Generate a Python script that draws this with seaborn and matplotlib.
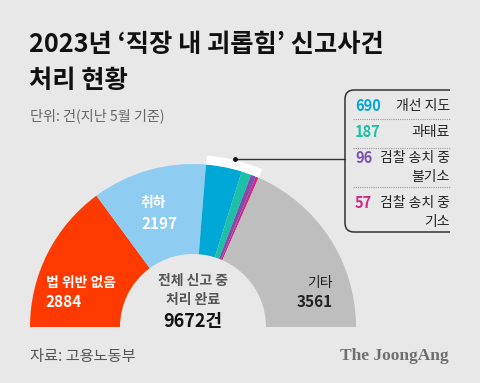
import matplotlib
matplotlib.use("Agg")
import numpy as np
import matplotlib.pyplot as plt
import seaborn as sns
from matplotlib.patches import Wedge, PathPatch
from matplotlib.path import Path

# --- data ---
categories = ['법 위반 없음', '취하', '개선 지도', '과태료', '검찰 송치 중\n불기소', '검찰 송치 중\n기소', '기타']
counts = [2884, 2197, 690, 187, 96, 57, 3561]
colors = ['#FF3A00', '#8ECCF1', '#00A8D8', '#1CC0A6', '#7A4FAE', '#D22784', '#BEBEBE']
detail_idx = [2, 3, 4, 5]
total = sum(counts)

BG = '#E8E8E8'
KR = ['Noto Sans CJK KR', 'DejaVu Sans']

sns.set_theme(style="white", rc={'figure.facecolor': BG, 'axes.facecolor': BG})
plt.rcParams['font.family'] = KR

fig = plt.figure(figsize=(4.8, 3.83), dpi=100)
ax = fig.add_axes([0, 0, 1, 1])
ax.set_xlim(0, 480)
ax.set_ylim(383, 0)
ax.axis('off')

# --- half donut (angles in display sense, clockwise from left) ---
cx, cy, R, r_in = 193, 327, 163, 73
cum = np.concatenate([[0], np.cumsum(counts)])
ang = 180 - cum / total * 180


def wedge(a_lo, a_hi, r, w, color):
    # y axis is inverted, so display angle a maps to data angle -a
    ax.add_patch(Wedge((cx, cy), r, -a_hi, -a_lo, width=w, facecolor=color, edgecolor='none'))


for i, c in enumerate(colors):
    wedge(ang[i + 1], ang[i], R, R - r_in, c)

# white highlight band over the small categories
wedge(ang[detail_idx[-1] + 1], ang[detail_idx[0]], R + 9, 9, 'white')

# segment labels
ax.text(46, 283, categories[0], color='white', fontsize=10, fontweight='bold', va='center')
ax.text(46, 302, f'{counts[0]}', color='white', fontsize=11, fontweight='bold', va='center')
ax.text(140, 203, categories[1], color='white', fontsize=10, fontweight='bold', va='center')
ax.text(141, 224, f'{counts[1]}', color='white', fontsize=11, fontweight='bold', va='center')
ax.text(333, 283, categories[6], color='#222222', fontsize=10, ha='right', va='center')
ax.text(333, 302, f'{counts[6]}', color='#222222', fontsize=11, fontweight='bold', ha='right', va='center')

# center text
ax.text(cx, 281, '전체 신고 중', color='#555555', fontsize=10, fontweight='bold', ha='center', va='center')
ax.text(cx, 300, '처리 완료', color='#555555', fontsize=10, fontweight='bold', ha='center', va='center')
ax.text(cx, 321, f'{total}건', color='#111111', fontsize=13, fontweight='bold', ha='center', va='center')

# leader line + detail box
ax.plot([235, 345], [159, 159], color='#333333', lw=1)
ax.plot([235], [159], marker='o', ms=2.5, color='#111111')
bx0, bx1, by0, by1, rc = 345, 450, 90, 232, 9
verts = [(bx1, by0), (bx0 + rc, by0), (bx0, by0), (bx0, by0 + rc),
         (bx0, by1 - rc), (bx0, by1), (bx0 + rc, by1), (bx1, by1)]
codes = [Path.MOVETO, Path.LINETO, Path.CURVE3, Path.CURVE3,
         Path.LINETO, Path.CURVE3, Path.CURVE3, Path.LINETO]
ax.add_patch(PathPatch(Path(verts, codes), facecolor='none', edgecolor='#333333', lw=1.1))
for y in [119, 148, 187]:
    ax.plot([353, 450], [y, y], color='#999999', lw=0.8, ls=(0, (1, 1)))

rows_y = [106, 132, 158, 203]
for k, i in enumerate(detail_idx):
    y = rows_y[k]
    ax.text(355, y, f'{counts[i]}', color=colors[i], fontsize=10.5, fontweight='bold', va='center')
    lines = categories[i].split('\n')
    for j, line in enumerate(lines):
        ax.text(450, y + j * 19, line, color='#222222', fontsize=10, ha='right', va='center')

# titles
ax.text(29, 45, '2023년 ‘직장 내 괴롭힘’ 신고사건', color='#111111', fontsize=18.2, fontweight='bold', va='center')
ax.text(29, 80, '처리 현황', color='#111111', fontsize=18.2, fontweight='bold', va='center')
ax.text(30, 116, '단위: 건(지난 5월 기준)', color='#666666', fontsize=10.2, va='center')

# footer
ax.text(30, 356, '자료: 고용노동부', color='#555555', fontsize=11, va='center')
ax.text(449, 356, 'The JoongAng', color='#6E6E6E', fontsize=12.5, fontweight='bold',
        family='Liberation Serif', ha='right', va='center')

fig.savefig('out.png', dpi=100, facecolor=BG)
